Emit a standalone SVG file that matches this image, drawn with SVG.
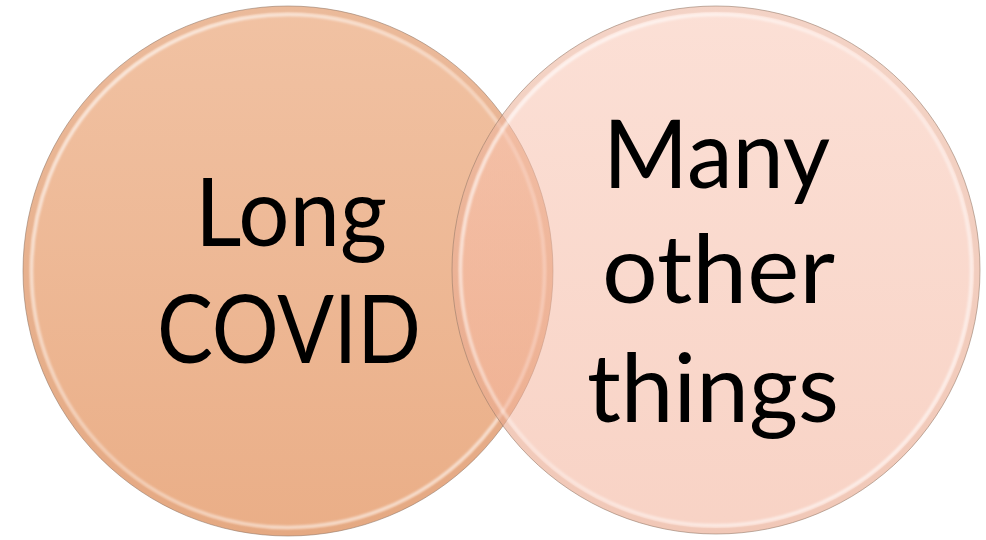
<svg xmlns="http://www.w3.org/2000/svg" width="986" height="540" viewBox="0 0 986 540">
  <defs>
    <linearGradient id="gLeft" x1="0" y1="0" x2="0" y2="1">
      <stop offset="0" stop-color="#F1C2A3"/>
      <stop offset="1" stop-color="#EAAE87"/>
    </linearGradient>
    <linearGradient id="gRight" x1="0" y1="0" x2="0" y2="1">
      <stop offset="0" stop-color="#F9C6B4"/>
      <stop offset="1" stop-color="#F2AE95"/>
    </linearGradient>
    <linearGradient id="gRim" x1="0" y1="0" x2="1" y2="1">
      <stop offset="0" stop-color="#ffffff" stop-opacity="0.75"/>
      <stop offset="0.5" stop-color="#ffffff" stop-opacity="0.35"/>
      <stop offset="1" stop-color="#ffffff" stop-opacity="0.7"/>
    </linearGradient>
    <filter id="soft" x="-5%" y="-5%" width="110%" height="110%">
      <feGaussianBlur stdDeviation="1.2"/>
    </filter>
  </defs>
  <style>
    .edge { fill: none; stroke: #8f7666; stroke-width: 1; stroke-opacity: 0.55; }
    .band { fill: none; stroke: #c98f6e; stroke-opacity: 0.15; stroke-width: 6; }
    .rim { fill: none; stroke: url(#gRim); stroke-width: 3.5; filter: url(#soft); }
    .label { font-family: "Lato", "Open Sans", "Liberation Sans", sans-serif; font-weight: 400; font-size: 95px; fill: #000; text-anchor: middle; }
  </style>
  <rect width="986" height="540" fill="#ffffff"/>

  <g id="node-long-covid">
    <circle cx="288" cy="271" r="265" fill="url(#gLeft)"/>
    <circle cx="288" cy="271" r="262" class="band"/>
    <circle cx="288" cy="271" r="256.5" class="rim"/>
    <circle cx="288" cy="271" r="265" class="edge"/>
    <text class="label" x="291" y="246" textLength="192" lengthAdjust="spacingAndGlyphs">Long</text>
    <text class="label" x="289" y="363" textLength="264" lengthAdjust="spacingAndGlyphs">COVID</text>
  </g>

  <g id="node-many-other-things">
    <circle cx="716" cy="270" r="264" fill="url(#gRight)" fill-opacity="0.55"/>
    <circle cx="716" cy="270" r="261" class="band"/>
    <circle cx="716" cy="270" r="255.5" class="rim"/>
    <circle cx="716" cy="270" r="264" class="edge"/>
    <text class="label" x="716.5" y="188" textLength="227" lengthAdjust="spacingAndGlyphs">Many</text>
    <text class="label" x="718.5" y="303" textLength="233" lengthAdjust="spacingAndGlyphs">other</text>
    <text class="label" x="713" y="422" textLength="252" lengthAdjust="spacingAndGlyphs">things</text>
  </g>

  <g id="connectors"></g>
</svg>
